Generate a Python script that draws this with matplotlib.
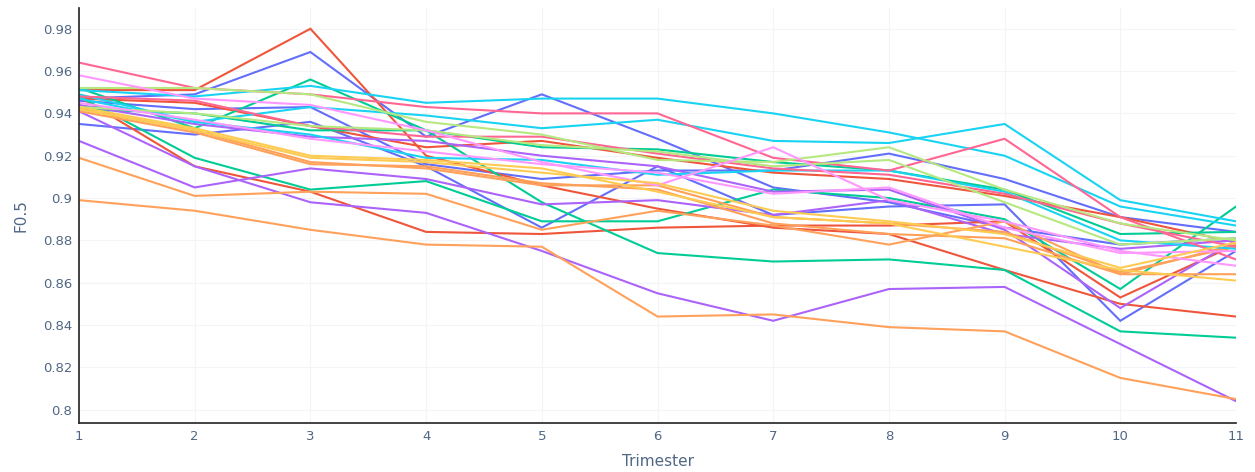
import numpy as np
import matplotlib.pyplot as plt

trimester = list(range(1, 12))

# F0.5 per trimester for each run
blue_1 = [0.947, 0.949, 0.969, 0.929, 0.949, 0.928, 0.905, 0.898, 0.886, 0.878, 0.881]
blue_2 = [0.935, 0.930, 0.936, 0.915, 0.886, 0.915, 0.892, 0.896, 0.897, 0.842, 0.875]
blue_3 = [0.946, 0.942, 0.943, 0.916, 0.909, 0.913, 0.913, 0.921, 0.909, 0.891, 0.884]
red_1 = [0.951, 0.951, 0.980, 0.920, 0.906, 0.895, 0.886, 0.883, 0.866, 0.850, 0.844]
red_2 = [0.948, 0.915, 0.903, 0.884, 0.883, 0.886, 0.887, 0.887, 0.889, 0.853, 0.878]
red_3 = [0.947, 0.945, 0.934, 0.924, 0.927, 0.919, 0.912, 0.909, 0.901, 0.891, 0.879]
green_1 = [0.952, 0.933, 0.956, 0.932, 0.898, 0.874, 0.870, 0.871, 0.866, 0.837, 0.834]
green_2 = [0.948, 0.919, 0.904, 0.908, 0.889, 0.889, 0.904, 0.900, 0.890, 0.857, 0.896]
green_3 = [0.942, 0.940, 0.932, 0.932, 0.924, 0.923, 0.917, 0.913, 0.904, 0.883, 0.884]
purple_1 = [0.927, 0.905, 0.914, 0.909, 0.897, 0.899, 0.892, 0.899, 0.883, 0.876, 0.880]
purple_2 = [0.941, 0.915, 0.898, 0.893, 0.875, 0.855, 0.842, 0.857, 0.858, 0.831, 0.804]
purple_3 = [0.944, 0.935, 0.929, 0.927, 0.920, 0.915, 0.903, 0.904, 0.885, 0.848, 0.880]
orange_1 = [0.899, 0.894, 0.885, 0.878, 0.877, 0.844, 0.845, 0.839, 0.837, 0.815, 0.805]
orange_2 = [0.919, 0.901, 0.903, 0.902, 0.885, 0.894, 0.887, 0.878, 0.889, 0.864, 0.878]
orange_3 = [0.942, 0.932, 0.917, 0.914, 0.906, 0.906, 0.891, 0.888, 0.884, 0.865, 0.877]
orange_4 = [0.941, 0.931, 0.916, 0.915, 0.907, 0.904, 0.888, 0.883, 0.881, 0.864, 0.864]
yellow_1 = [0.943, 0.933, 0.920, 0.918, 0.914, 0.903, 0.891, 0.888, 0.877, 0.866, 0.861]
yellow_2 = [0.942, 0.932, 0.919, 0.917, 0.912, 0.907, 0.894, 0.889, 0.883, 0.867, 0.879]
cyan_1 = [0.951, 0.948, 0.953, 0.945, 0.947, 0.947, 0.940, 0.931, 0.920, 0.896, 0.887]
cyan_2 = [0.947, 0.936, 0.943, 0.939, 0.933, 0.937, 0.927, 0.926, 0.935, 0.899, 0.889]
cyan_3 = [0.949, 0.936, 0.930, 0.919, 0.918, 0.911, 0.913, 0.913, 0.903, 0.880, 0.876]
pink_1 = [0.964, 0.952, 0.949, 0.943, 0.940, 0.940, 0.919, 0.913, 0.928, 0.891, 0.871]
pink_2 = [0.948, 0.946, 0.934, 0.929, 0.929, 0.921, 0.914, 0.911, 0.902, 0.888, 0.877]
lime_1 = [0.952, 0.952, 0.949, 0.936, 0.930, 0.918, 0.917, 0.924, 0.904, 0.888, 0.880]
lime_2 = [0.943, 0.940, 0.934, 0.932, 0.925, 0.922, 0.915, 0.918, 0.898, 0.878, 0.881]
lilac_1 = [0.958, 0.947, 0.944, 0.932, 0.917, 0.906, 0.924, 0.899, 0.889, 0.875, 0.868]
lilac_2 = [0.945, 0.937, 0.928, 0.922, 0.916, 0.912, 0.902, 0.905, 0.886, 0.874, 0.875]

runs = [
    (blue_1, '#636EFA'), (blue_2, '#636EFA'), (blue_3, '#636EFA'),
    (red_1, '#EF553B'), (red_2, '#EF553B'), (red_3, '#EF553B'),
    (green_1, '#00CC96'), (green_2, '#00CC96'), (green_3, '#00CC96'),
    (purple_1, '#AB63FA'), (purple_2, '#AB63FA'), (purple_3, '#AB63FA'),
    (orange_1, '#FFA15A'), (orange_2, '#FFA15A'), (orange_3, '#FFA15A'), (orange_4, '#FFA15A'),
    (cyan_1, '#19D3F3'), (cyan_2, '#19D3F3'), (cyan_3, '#19D3F3'),
    (pink_1, '#FF6692'), (pink_2, '#FF6692'),
    (lime_1, '#B6E880'), (lime_2, '#B6E880'),
    (lilac_1, '#FF97FF'), (lilac_2, '#FF97FF'),
    (yellow_1, '#FECB52'), (yellow_2, '#FECB52'),
]

text_col = '#506784'

fig = plt.figure(figsize=(12.55, 4.72), dpi=100)
ax = fig.add_axes([79 / 1255, 1 - 423 / 472, (1236 - 79) / 1255, (423 - 8) / 472])

for vals, col in runs:
    ax.plot(trimester, vals, color=col, lw=1.5, solid_joinstyle='miter')

ax.set_xlim(1, 11)
ax.set_ylim(0.7937, 0.9898)
ax.set_xticks(trimester)
yt = [0.8, 0.82, 0.84, 0.86, 0.88, 0.9, 0.92, 0.94, 0.96, 0.98]
ax.set_yticks(yt)
ax.set_yticklabels([f'{v:g}' for v in yt])
ax.grid(True, color='#f3f4f7', lw=0.8)
ax.set_axisbelow(True)

for side in ['top', 'right']:
    ax.spines[side].set_visible(False)
for side in ['left', 'bottom']:
    ax.spines[side].set_color('#222222')
    ax.spines[side].set_linewidth(1.2)

ax.tick_params(length=0, labelsize=9.5, colors=text_col, pad=5)
ax.set_xlabel('Trimester', fontsize=11, color=text_col, labelpad=8)
ax.set_ylabel('F0.5', fontsize=11, color=text_col, labelpad=10)

fig.savefig('out.png', dpi=100, facecolor='white')
